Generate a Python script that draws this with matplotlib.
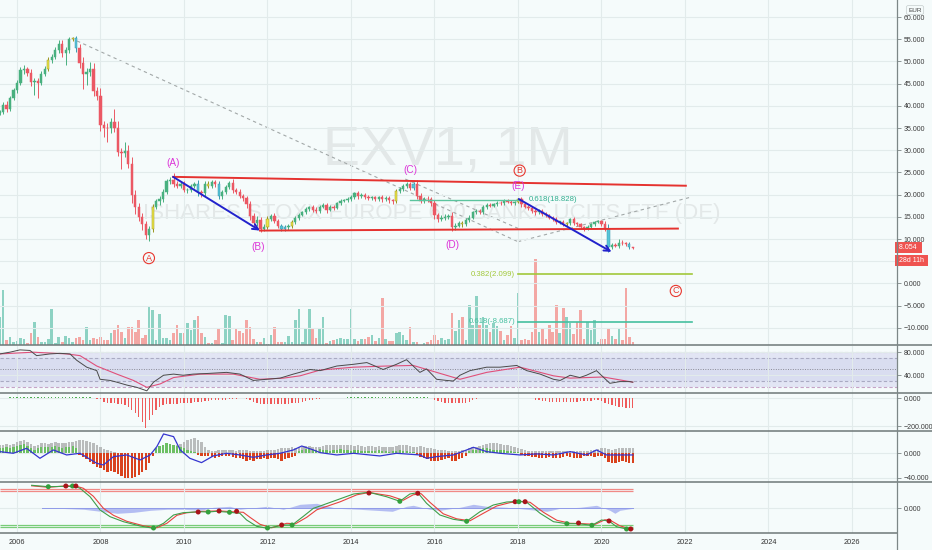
import numpy as np
import pandas as pd
import matplotlib
matplotlib.use("Agg")
import matplotlib.pyplot as plt
from matplotlib.lines import Line2D

plt.rcParams['font.family'] = ['Liberation Sans', 'DejaVu Sans']

# ---- monthly candles, Aug 2005 .. Oct 2020 (EUR) ----
first_open = 38.4
closes = (
    [38.6, 40.2, 39.3, 41.8, 43.5] +
    [45.2, 48.0, 48.2, 47.5, 45.4, 45.5, 45.2, 47.2, 48.4, 50.3, 51.0, 52.5] +
    [54.0, 51.8, 52.5, 55.0, 55.3, 53.0, 49.6, 47.2, 47.6, 48.4, 43.3, 42.2] +
    [35.6, 35.0, 34.9, 36.3, 35.0, 29.6, 29.3, 29.9, 27.0, 20.0, 17.2, 15.0] +
    [13.3, 11.0, 12.3, 17.3, 18.5, 19.0, 20.6, 23.0, 23.3, 22.4, 22.0, 22.5] +
    [21.0, 21.0, 22.0, 22.3, 20.5, 20.3, 22.5, 22.0, 22.8, 22.3, 19.6, 20.5] +
    [21.7, 22.7, 21.0, 20.6, 19.7, 19.2, 17.8, 15.2, 13.6, 14.2, 12.3, 12.8] +
    [14.5, 15.2, 14.1, 13.0, 12.3, 12.6, 12.9, 13.8, 14.7, 15.4, 16.0, 16.8] +
    [17.1, 16.6, 16.4, 17.3, 17.6, 16.6, 17.2, 17.0, 18.0, 18.6, 18.8, 19.0] +
    [19.4, 20.3, 19.6, 19.9, 19.5, 19.2, 19.4, 19.0, 19.5, 18.9, 19.2, 18.7] +
    [18.5, 20.8, 21.3, 21.9, 22.3, 21.6, 22.4, 19.8, 18.6, 19.0, 18.9, 18.0] +
    [15.3, 14.6, 14.8, 15.0, 15.2, 12.6, 13.0, 13.6, 13.3, 14.3, 14.8, 16.0] +
    [16.3, 16.0, 17.2, 17.6, 17.5, 17.8, 18.2, 18.0, 18.6, 18.4, 18.0, 18.3] +
    [18.9, 17.8, 17.3, 17.0, 16.3, 16.0, 16.3, 15.6, 15.3, 14.8, 14.5, 13.8] +
    [13.8, 13.3, 13.5, 14.4, 13.5, 13.3, 12.7, 12.3, 12.8, 13.3, 13.8, 14.0] +
    [13.3, 12.2, 8.3, 8.6, 8.5, 9.2, 9.0, 8.9, 8.1, 8.054]
)
wick_hi = (
    [0.5, 0.6, 0.8, 0.5, 0.6] +
    [0.6, 0.8, 0.9, 0.6, 0.8, 0.7, 0.8, 0.6, 0.6, 0.8, 0.6, 0.7] +
    [0.8, 0.9, 0.7, 0.6, 0.3, 0.5, 1.0, 1.5, 1.0, 1.5, 1.2, 1.0] +
    [1.8, 1.0, 1.2, 1.0, 3.0, 1.5, 1.0, 2.0, 1.2, 1.5, 1.0, 1.0] +
    [0.8, 0.8, 0.6, 0.5, 0.6, 0.6, 0.6, 0.5, 0.7, 1.5, 0.6, 0.6] +
    [0.6, 0.4, 0.5, 0.6, 1.0, 0.6, 0.5, 0.6, 0.6, 0.6, 0.8, 0.5] +
    [0.5, 0.4, 0.8, 0.6, 0.6, 0.5, 0.6, 0.8, 0.6, 0.9, 0.8, 0.5] +
    [0.6, 0.5, 0.6, 0.5, 0.4, 0.5, 0.5, 0.4, 0.5, 0.4, 0.4, 0.4] +
    [0.4, 0.6, 0.5, 0.4, 0.5, 0.6, 0.4, 0.5, 0.4, 0.4, 0.3, 0.4] +
    [0.5, 0.4, 0.5, 0.4, 0.4, 0.4, 0.4, 0.4, 0.3, 0.5, 0.4, 0.5] +
    [0.4, 0.4, 0.5, 0.4, 0.5, 0.6, 0.5, 1.0, 0.6, 0.5, 0.6, 0.5] +
    [0.7, 0.6, 0.7, 0.6, 0.5, 0.8, 0.5, 0.4, 0.5, 0.4, 0.5, 0.4] +
    [0.4, 0.5, 0.4, 0.5, 0.4, 0.4, 0.3, 0.4, 0.3, 0.4, 0.4, 0.3] +
    [0.3, 0.6, 0.4, 0.4, 0.5, 0.4, 0.4, 0.4, 0.4, 0.4, 0.4, 0.4] +
    [0.3, 0.4, 0.3, 0.3, 0.5, 0.3, 0.3, 0.3, 0.4, 0.3, 0.3, 0.3] +
    [0.3, 0.8, 1.2, 0.6, 0.4, 0.8, 0.5, 0.4, 0.4, 0.2]
)
wick_lo = (
    [0.4, 0.5, 0.6, 0.5, 0.5] +
    [0.6, 0.5, 0.8, 0.7, 0.9, 3.0, 3.5, 0.6, 0.5, 0.6, 0.6, 0.5] +
    [0.5, 0.8, 2.5, 0.6, 0.4, 0.8, 1.0, 3.5, 2.5, 0.8, 1.0, 1.0] +
    [1.2, 2.0, 3.0, 1.0, 1.0, 1.0, 3.5, 0.8, 1.0, 2.0, 1.5, 1.0] +
    [1.2, 1.0, 1.5, 0.8, 0.5, 0.8, 0.6, 0.5, 0.5, 0.6, 0.6, 0.5] +
    [0.5, 0.6, 0.4, 0.5, 0.7, 0.8, 0.5, 0.6, 0.5, 0.6, 0.5, 0.5] +
    [0.4, 0.5, 0.6, 0.5, 0.5, 0.7, 0.8, 1.0, 0.9, 0.7, 0.8, 0.5] +
    [0.5, 0.4, 0.5, 0.5, 0.6, 0.5, 0.5, 0.4, 0.5, 0.4, 0.3, 0.4] +
    [0.4, 0.6, 0.5, 0.5, 0.4, 0.7, 0.4, 0.4, 0.3, 0.3, 0.3, 0.4] +
    [0.4, 0.4, 0.5, 0.4, 0.4, 0.4, 0.4, 0.5, 0.4, 0.6, 0.4, 0.5] +
    [0.6, 0.4, 0.4, 0.4, 0.4, 0.5, 0.6, 0.8, 0.6, 0.5, 0.5, 0.6] +
    [0.8, 0.7, 0.6, 0.5, 0.5, 0.8, 0.5, 0.4, 0.5, 0.4, 0.4, 0.4] +
    [0.4, 0.4, 0.3, 0.4, 0.4, 0.4, 0.3, 0.4, 0.3, 0.4, 0.4, 0.3] +
    [0.3, 0.5, 0.4, 0.4, 0.4, 0.5, 0.4, 0.4, 0.4, 0.4, 0.4, 0.4] +
    [0.4, 0.3, 0.4, 0.3, 0.3, 0.3, 0.3, 0.4, 0.3, 0.3, 0.3, 0.3] +
    [0.3, 0.4, 1.2, 0.5, 0.4, 0.5, 0.4, 0.4, 0.3, 0.2]
)
volumes = (
    [28, 55, 5, 8, 3] +
    [4, 7, 6, 2, 12, 23, 8, 3, 3, 6, 36, 2] +
    [8, 3, 9, 7, 3, 7, 8, 5, 18, 5, 7, 6] +
    [8, 5, 5, 12, 15, 20, 13, 7, 18, 18, 13, 25] +
    [7, 10, 39, 35, 5, 31, 7, 7, 5, 12, 20, 12] +
    [12, 22, 15, 25, 29, 12, 8, 2, 2, 5, 16, 2] +
    [30, 29, 5, 16, 14, 12, 25, 18, 6, 3, 3, 7] +
    [1, 10, 18, 3, 3, 3, 9, 3, 25, 36, 3, 16] +
    [36, 17, 7, 17, 28, 2, 4, 5, 6, 7, 6, 6] +
    [36, 6, 4, 6, 6, 8, 10, 4, 7, 47, 6, 4] +
    [4, 12, 13, 10, 5, 18, 3, 3, 0, 2, 3, 5] +
    [10, 5, 7, 5, 6, 32, 14, 25, 28, 5, 40, 20] +
    [49, 20, 28, 20, 13, 22, 19, 14, 5, 10, 19, 7] +
    [52, 5, 6, 5, 13, 86, 13, 17, 6, 20, 13, 40] +
    [12, 37, 28, 22, 11, 23, 35, 6, 23, 15, 25, 3] +
    [6, 6, 17, 9, 6, 17, 5, 57, 8, 3]
)
yellow_bars = ['2006-10', '2007-05', '2009-04', '2010-08', '2012-01', '2012-08',
               '2015-02', '2016-09', '2018-01', '2019-03']
cyan_bars = ['2007-06', '2010-05', '2010-11', '2012-05', '2012-06', '2015-07',
             '2020-03', '2020-09']

# ---- drawings on the price pane ----
chan_upper = [(2009.74, 24.0), (2022.02, 22.0)]
chan_lower = [(2011.82, 11.9), (2021.83, 12.35)]
arrows = [[(2009.74, 24.0), (2011.82, 11.9)], [(2018.02, 19.0), (2020.24, 7.1)]]
dash_lines = [[(2007.44, 54.6), (2018.0, 9.4)],
              [(2015.3, 23.5), (2018.0, 12.4)],
              [(2018.0, 9.4), (2022.17, 19.5)]]
fib_top = (0.618, 18.828, 2015.41, 2018.05)
fib_low = [(0.382, 2.099, '#a2c83a'), (0.618, -8.687, '#45bf9f')]
fib_low_span = (2018.0, 2022.17)
waves = [('(A)', 2009.74, 27.1), ('(B)', 2011.77, 8.2), ('(C)', 2015.43, 25.5),
         ('(D)', 2016.43, 8.65), ('(E)', 2018.0, 22.0)]
circled = [('A', 2009.16, 5.7), ('B', 2018.04, 25.4), ('C', 2021.78, -1.7)]

# ---- RSI pane ----
rsi_t = [2005.59, 2005.83, 2006.07, 2006.31, 2006.47, 2006.79, 2007.03, 2007.27, 2007.43, 2007.67,
         2007.91, 2007.99, 2008.23, 2008.39, 2008.63, 2008.87, 2009.11, 2009.27, 2009.51, 2009.75,
         2009.98, 2010.22, 2010.54, 2011.02, 2011.34, 2011.66, 2011.98, 2012.30, 2012.62, 2013.02,
         2013.26, 2013.66, 2014.06, 2014.38, 2014.77, 2015.09, 2015.33, 2015.65, 2015.81, 2016.05,
         2016.29, 2016.45, 2016.61, 2016.85, 2017.25, 2017.57, 2017.97, 2018.21, 2018.53, 2018.85,
         2019.01, 2019.25, 2019.48, 2019.64, 2019.88, 2020.20, 2020.44, 2020.68, 2020.75]
rsi_v = [77, 80, 84, 83, 74, 77, 78, 77, 66, 54, 48, 33, 31, 28, 23, 19, 13, 28, 40, 42,
         40, 42, 43, 45, 42, 31, 33, 35, 42, 50, 48, 56, 59, 62, 50, 59, 67, 45, 51, 33,
         31, 30, 40, 48, 54, 54, 57, 48, 42, 33, 31, 40, 36, 40, 48, 26, 29, 29, 28]
rsi_ma_t = [2005.59, 2006.39, 2007.19, 2007.51, 2007.91, 2008.39, 2008.79, 2009.11, 2009.43,
            2009.75, 2010.38, 2011.18, 2011.82, 2012.38, 2012.78, 2013.26, 2014.06, 2014.85,
            2015.49, 2016.05, 2016.61, 2017.25, 2018.05, 2018.85, 2019.25, 2020.04, 2020.75]
rsi_ma_v = [77, 80, 77, 74, 56, 42, 31, 19, 25, 36, 42, 42, 33, 35, 39, 49, 54, 56, 57, 45,
            33, 45, 54, 39, 35, 37, 28]

# ---- momentum histogram pane ----
mom = (
    [0, 0, 0, 8, 10] +
    [10, 12, 12, 12, 12, 12, 12, 12, 12, 12, 12, 12] +
    [12, 12, 12, 12, 12, 12, 10, 8, 8, 6, 4, -3] +
    [-5, -24, -30, -32, -36, -40, -44, -48, -60, -84, -108, -137] +
    [-168, -216, -156, -120, -84, -60, -48, -41, -41, -41, -40, -36] +
    [-34, -32, -30, -28, -26, -24, -22, -18, -14, -12, -12, -10] +
    [-10, -8, -5, -3, 0, 0, -5, -12, -24, -36, -44, -44] +
    [-44, -44, -44, -44, -42, -40, -38, -36, -34, -30, -26, -20] +
    [-15, -10, -6, -3, 2, 2, 3, 3, 3, 3, 3, 10] +
    [10, 12, 12, 12, 12, 12, 12, 12, 12, 12, 12, 12] +
    [12, 12, 12, 12, 12, 12, 12, 12, 10, 8, 6, 4] +
    [-10, -20, -28, -34, -36, -36, -36, -36, -34, -30, -24, -15] +
    [-3, 2, 2, 2, 2, 2, 2, 2, 2, 2, 2, 2] +
    [2, 2, 2, 2, 2, -10, -14, -18, -22, -25, -26, -27] +
    [-28, -28, -27, -26, -25, -24, -22, -20, -18, -16, -14, -12] +
    [-20, -30, -40, -48, -55, -60, -64, -68, -70, -72]
)

# ---- MACD-style pane ----
osc_gray = (
    [13, 14, 15, 14, 15] +
    [18, 20, 21, 18, 15, 12, 14, 16, 17, 15, 16, 18] +
    [16, 16, 17, 18, 19, 20, 21, 21, 20, 19, 17, 14] +
    [10, 7, 5, 3, 2, 0, 0, 0, 0, 0, 0, 0] +
    [0, 0, 0, 0, 3, 6, 8, 10, 12, 13, 14, 15] +
    [18, 21, 23, 24, 22, 18, 10, 5, 4, 4, 5, 5] +
    [5, 6, 5, 4, 5, 6, 5, 4, 4, 3, 3, 4] +
    [5, 6, 6, 7, 8, 8, 9, 10, 9, 10, 11, 12] +
    [12, 11, 10, 11, 12, 13, 13, 14, 14, 13, 14, 14] +
    [13, 12, 13, 12, 11, 12, 12, 11, 12, 11, 10, 11] +
    [11, 12, 13, 14, 13, 12, 11, 11, 12, 10, 9, 8] +
    [7, 6, 5, 5, 4, 4, 4, 4, 5, 6, 8, 10] +
    [11, 12, 14, 15, 16, 17, 16, 15, 14, 13, 12, 10] +
    [9, 7, 5, 4, 4, 3, 3, 3, 3, 3, 3, 3] +
    [3, 4, 4, 3, 3, 4, 4, 3, 4, 5, 6, 7] +
    [8, 8, 7, 6, 7, 8, 8, 9, 9, 9]
)
osc_hist = (
    [8, 9, 10, 9, 10] +
    [12, 14, 15, 12, 8, 6, 8, 10, 11, 10, 11, 12] +
    [10, 9, 10, 11, 12, 8, -3, -6, -10, -14, -18, -22] +
    [-24, -27, -30, -28, -30, -33, -36, -40, -40, -40, -38, -35] +
    [-30, -27, -16, -5, 8, 12, 14, 16, 15, 14, 12, 10] +
    [8, 6, 4, 2, -3, -5, -5, -4, -6, -7, -6, -5] +
    [-5, -4, -6, -7, -8, -10, -12, -11, -12, -10, -9, -8] +
    [-10, -8, -7, -9, -12, -10, -8, -6, -5, 3, 5, 7] +
    [8, 6, 5, 7, 6, 5, 4, 5, 6, 7, 6, 5] +
    [4, 5, 6, 4, 3, 4, 3, 4, 5, 4, 3, 2] +
    [3, 4, 5, 4, 3, 2, 2, -3, -6, -8, -10, -12] +
    [-13, -12, -11, -10, -8, -12, -13, -9, -7, -5, 3, 5] +
    [6, 7, 8, 8, 7, 6, 6, 5, 5, 4, 3, 2] +
    [2, -3, -4, -5, -6, -6, -7, -8, -7, -6, -7, -8] +
    [-7, -6, -5, -6, -7, -8, -7, -5, -4, -5, -6, -4] +
    [-5, -8, -14, -16, -15, -14, -13, -14, -15, -16]
)
osc_line_t = [2005.59, 2005.91, 2006.23, 2006.55, 2006.87, 2007.19, 2007.51, 2007.91, 2008.07, 2008.31,
              2008.63, 2008.95, 2009.19, 2009.35, 2009.51, 2009.75, 2009.91, 2010.14, 2010.42, 2010.70,
              2011.02, 2011.34, 2011.66, 2011.98, 2012.30, 2012.62, 2012.82, 2013.10, 2013.26, 2013.66,
              2014.06, 2014.45, 2014.69, 2015.09, 2015.65, 2015.81, 2016.05, 2016.45, 2016.77, 2016.93,
              2017.25, 2017.57, 2018.05, 2018.45, 2018.85, 2019.25, 2019.64, 2019.88, 2020.12, 2020.44,
              2020.75]
osc_line_v = [2.7, 0, 8.1, -8.1, 5.4, -2.7, 0, -16.2, -18.9, -5.4,
              -2.7, -10.8, -2.7, 10.8, 31.3, 27, 5.4, -8.1, -15.1, -4.3,
              0, -2.7, -6.5, -2.7, 0, 5.4, 11.8, 5.4, 1.1, -2.7,
              0, -2.7, -4.3, 0, -2.7, -8.1, -5.4, -2.7, 5.4, 9.7,
              2.7, 0, -2.7, -1, -2.7, 2.7, -2.7, 5.4, -2.7, -2.7,
              -2.7]

# ---- stochastic-style pane ----
fast_t = [2006.35, 2006.75, 2007.19, 2007.41, 2007.51, 2007.75, 2007.99, 2008.23, 2008.55, 2008.95,
          2009.27, 2009.51, 2009.75, 2009.98, 2010.38, 2010.58, 2010.78, 2011.09, 2011.34, 2011.50,
          2011.74, 2012.00, 2012.38, 2012.59, 2012.86, 2013.10, 2013.26, 2013.66, 2014.06, 2014.43,
          2014.85, 2015.17, 2015.41, 2015.60, 2015.81, 2016.13, 2016.45, 2016.77, 2017.09, 2017.41,
          2017.73, 2018.02, 2018.21, 2018.53, 2018.85, 2019.17, 2019.45, 2019.77, 2020.00, 2020.18,
          2020.36, 2020.60, 2020.75]
fast_v = [23, 21.6, 22, 21.6, 20, 11.6, -1.7, -8.4, -13.4, -17.7,
          -20, -15, -6.7, -4.4, -3.4, -3.7, -3, -4, -5, -11.7,
          -18, -20, -16.7, -16.7, -8, 0, 2.3, 8.3, 14.3, 16,
          11.6, 7, 14.3, 15.6, 5, -6.7, -11, -13, -3.4, 3.3,
          6.3, 7, 6, -5, -13.4, -15.4, -15.4, -17, -11.7, -12.7,
          -18.4, -20.7, -20.7]
slow_t = [2006.35, 2006.75, 2007.19, 2007.43, 2007.59, 2007.83, 2008.07, 2008.31, 2008.63, 2009.03,
          2009.35, 2009.59, 2009.83, 2010.06, 2010.46, 2010.86, 2011.17, 2011.42, 2011.58, 2011.82,
          2012.10, 2012.46, 2012.67, 2012.94, 2013.18, 2013.74, 2014.14, 2014.43, 2014.93, 2015.25,
          2015.49, 2015.68, 2015.89, 2016.21, 2016.53, 2016.85, 2017.17, 2017.49, 2017.81, 2018.05,
          2018.29, 2018.61, 2018.93, 2019.25, 2019.45, 2019.85, 2020.08, 2020.20, 2020.44, 2020.68,
          2020.75]
slow_v = [22.5, 21, 22.5, 22, 20, 12, 0, -7, -13, -17.5,
          -19.5, -15, -7, -4.5, -3, -2.6, -3.5, -4, -9, -16,
          -19.5, -15, -15.5, -9, -1.5, 6.5, 13.5, 15.8, 12.5, 8,
          13.5, 14.6, 6, -5.5, -10.5, -12.5, -5, 2.3, 5.7, 7,
          6, -4, -12, -15, -15.2, -16, -11.5, -11.7, -17.5, -20.5,
          -20.7]
cross_t = [2006.75, 2007.17, 2007.33, 2007.41, 2009.27, 2010.34, 2010.58, 2010.84, 2011.09, 2011.26,
           2012.00, 2012.34, 2012.59, 2014.43, 2015.17, 2015.60, 2016.77, 2017.93, 2018.02, 2018.17,
           2019.17, 2019.45, 2019.77, 2020.18, 2020.60, 2020.70]
cross_v = [21.6, 22.3, 22.3, 22.3, -19.7, -3.7, -3.7, -2.7, -4, -3,
           -19.7, -16.7, -16.7, 15.3, 7, 15, -13, 6.6, 6.6, 6.6,
           -15.4, -14.7, -17, -12.7, -20.7, -20.7]
cross_up = [True, False] * 13
spread_t = [2006.59, 2007.00, 2007.60, 2008.00, 2008.40, 2008.80, 2009.20, 2009.60, 2010.00, 2010.40,
            2010.70, 2011.10, 2011.34, 2011.98, 2012.38, 2012.78, 2013.18, 2013.26, 2013.66, 2014.20,
            2014.99, 2015.33, 2015.49, 2015.89, 2016.13, 2016.61, 2016.93, 2017.25, 2017.73, 2018.21,
            2018.69, 2019.01, 2019.48, 2019.88, 2020.20, 2020.32, 2020.44, 2020.76]
spread_v = [0, 0, -1, -3, -5, -4, -2, -1, -1, -2, 1, 2, -1, 2, -1, 4, 5, 4, 0, -1,
            -3, 2, 3, -1, -2, 1, 4, 2, 1, -1, -3, 0, 1, 3, -2, -5, -2, 0]
ob_lines = [19.3, 17.3]
os_lines = [-16.7, -19.0]

# ---------------------------------------------------------------------
W, H = 932, 550
BG = '#f5fbfb'
GRID = '#e2ebeb'
GREEN, RED = '#48b07f', '#eb5864'
VOL_UP, VOL_DN = '#8dd2c3', '#f3a7a4'
MAGENTA = '#dc34d8'
CIRC_RED = '#e8372f'
X0, X1 = 2005.593, 2027.078
years = np.arange(2006, 2027, 2)

fig = plt.figure(figsize=(W / 100, H / 100), dpi=100)
fig.patch.set_facecolor(BG)


def right_scale(a):
    a.yaxis.tick_right()
    a.tick_params(axis='y', left=False, labelleft=False, right=True, labelright=True,
                  direction='out', length=3, width=0.6, color='#7d8787',
                  pad=1.6, labelsize=5.0, labelcolor='#3a3a3a')


def pane(top, bottom):
    a = fig.add_axes([0, 1 - bottom / H, 897 / W, (bottom - top) / H])
    a.set_facecolor('none')
    a.set_xlim(X0, X1)
    for s in a.spines.values():
        s.set_visible(False)
    a.set_xticks(years)
    a.grid(axis='x', color=GRID, lw=0.8, zorder=0)
    a.tick_params(axis='x', length=0, labelbottom=False)
    right_scale(a)
    return a


def fmt(v):
    return f"{v:.3f}".replace('-', '\u2212')


def set_ticks(a, vals, hidden=()):
    a.set_yticks(vals)
    a.set_yticklabels(['' if v in hidden else fmt(v) for v in vals])
    a.grid(axis='y', color=GRID, lw=0.8, zorder=0)


months = pd.date_range('2005-08-01', periods=len(closes), freq='MS')
t = np.asarray(months.year + (months.month - 1) / 12.0, dtype=float)
c = np.asarray(closes)
o = np.r_[first_open, c[:-1]]
up = c >= o
body_lo, body_hi = np.minimum(o, c), np.maximum(o, c)
hi = body_hi + np.asarray(wick_hi)
lo = body_lo - np.asarray(wick_lo)
tags = list(months.strftime('%Y-%m'))
face = [GREEN if u else RED for u in up]
edge = list(face)
for i, tg in enumerate(tags):
    if tg in yellow_bars:
        face[i], edge[i] = '#ece64a', '#9b9520'
    elif tg in cyan_bars:
        face[i], edge[i] = '#56c3d8', '#3a9bb0'

# ---- price pane ----
ax = pane(0, 345)
axv = ax.twinx()
axv.set_xlim(X0, X1)
axv.set_ylim(0, 345)
axv.set_axis_off()
axv.bar(t, volumes, width=0.062, color=[VOL_UP if u else VOL_DN for u in up], zorder=1)
ax.set_zorder(axv.get_zorder() + 1)
# twinx moves the host ticks to the left, put them back on the price scale
right_scale(ax)
ax.set_ylim(-13.87, 63.83)
# the 5.000 level sits under the last-price tags
set_ticks(ax, list(range(-10, 61, 5)), hidden=(5,))

ax.text(0.4994, 0.5623, 'EXV1, 1M', transform=ax.transAxes, ha='center', va='center',
        fontsize=40, color='#e3e8e8', zorder=0.5)
ax.text(0.4816, 0.3826, 'ISHARES STOXX EUROPE 600 BANKS UCITS ETF (DE)', transform=ax.transAxes,
        ha='center', va='center', fontsize=16, color='#e3e8e8', zorder=0.5)

for ln in dash_lines:
    (xa, ya), (xb, yb) = ln
    ax.plot([xa, xb], [ya, yb], color='#a2a8a8', lw=0.8, ls=(0, (3, 3)), zorder=1)

ax.vlines(t, lo, hi, colors=edge, lw=0.7, zorder=3)
ax.bar(t, np.maximum(body_hi - body_lo, 0.15), bottom=body_lo, width=0.055,
       color=face, edgecolor=edge, lw=0.35, zorder=3)

for ln in (chan_upper, chan_lower):
    ax.plot([ln[0][0], ln[1][0]], [ln[0][1], ln[1][1]], color='#e5322f', lw=1.4, zorder=4)
for (xa, ya), (xb, yb) in arrows:
    ax.annotate('', xy=(xb, yb), xytext=(xa, ya),
                arrowprops=dict(arrowstyle='->', color='#2222cc', lw=1.4,
                                mutation_scale=10, shrinkA=0, shrinkB=0), zorder=5)

ratio, lvl, xa, xb = fib_top
ax.plot([xa, xb], [lvl, lvl], color='#5cc49e', lw=1.0, zorder=4)
ax.annotate(f"{ratio}({lvl:.3f})", xy=(xb, lvl), xytext=(6, 0), textcoords='offset points',
            ha='left', va='center', fontsize=5.6, color='#2fae8e', zorder=6)
for ratio, lvl, col in fib_low:
    ax.plot(fib_low_span, [lvl, lvl], color=col, lw=1.2, zorder=4)
    ax.annotate(f"{ratio}({lvl:.3f})", xy=(fib_low_span[0], lvl), xytext=(-2, 0),
                textcoords='offset points', ha='right', va='center', fontsize=5.6,
                color=col, zorder=6)

for txt, x, y in waves:
    ax.text(x, y, txt, ha='center', va='center', fontsize=7.2, color=MAGENTA, zorder=6)
for txt, x, y in circled:
    ax.text(x, y, txt, ha='center', va='center', fontsize=6.5, color=CIRC_RED, zorder=6,
            bbox=dict(boxstyle='circle,pad=0.12', fc='none', ec=CIRC_RED, lw=0.8))

ax.text(1.0, closes[-1], f" {closes[-1]:.3f}  ", transform=ax.get_yaxis_transform(),
        ha='left', va='center', fontsize=5.0, color='white', clip_on=False, zorder=10,
        bbox=dict(boxstyle='square,pad=0.25', fc='#ef5350', ec='none'))
ax.annotate(' 28d 11h ', xy=(1.0, closes[-1]), xycoords=ax.get_yaxis_transform(),
            xytext=(0, -9.2), textcoords='offset points', ha='left', va='center',
            fontsize=5.0, color='white', annotation_clip=False, zorder=10,
            bbox=dict(boxstyle='square,pad=0.25', fc='#ef5350', ec='none'))
fig.text(915 / W, 1 - 10 / H, 'EUR', ha='center', va='center', fontsize=4.6, color='#444',
         bbox=dict(boxstyle='round,pad=0.3', fc=BG, ec='#c5cdcd', lw=0.5))

# ---- RSI pane ----
ax2 = pane(345.5, 393.3)
ax2.set_ylim(8.7, 91.6)
set_ticks(ax2, [40, 80])
ax2.axhspan(20, 80, color='#e2e5f4', zorder=0.2, lw=0)
ax2.axhspan(30, 70, color='#d9ddf0', zorder=0.2, lw=0)
for lv, col in ((80, '#c6a3c6'), (20, '#c6a3c6'), (70, '#a9aac2'), (30, '#a9aac2')):
    ax2.axhline(lv, color=col, lw=0.8, ls=(0, (3, 2)), zorder=0.4)
ax2.axhline(50, color='#8a8a96', lw=0.7, ls=(0, (1, 1.5)), zorder=0.4)
ax2.plot(rsi_ma_t, rsi_ma_v, color='#e0507a', lw=0.8, zorder=2)
ax2.plot(rsi_t, rsi_v, color='#4a4a4a', lw=0.7, zorder=3)

# ---- momentum pane ----
ax3 = pane(393.3, 431)
ax3.set_ylim(-234, 36)
set_ticks(ax3, [-200, 0])
m = np.asarray(mom)
ax3.bar(t, m, width=0.032, color=np.where(m >= 0, '#4caf50', '#ef5a5a'), zorder=2)

# ---- oscillator pane ----
ax4 = pane(431, 481.7)
ax4.set_ylim(-46, 36.1)
set_ticks(ax4, [-40, 0])
ax4.bar(t, osc_gray, width=0.062, color='#b9bcbc', zorder=2)
h = np.asarray(osc_hist)
ax4.bar(t, h, width=0.055, color=np.where(h >= 0, '#6cbf63', '#d9421d'), zorder=3)
ax4.plot(osc_line_t, osc_line_v, color='#3535d0', lw=0.9, zorder=4)

# ---- stochastic pane ----
ax5 = pane(481.7, 532.7)
ax5.set_ylim(-24.4, 26.6)
set_ticks(ax5, [0])
ax5.hlines(ob_lines, t[0], t[-1], color='#f08a86', lw=0.9, zorder=1)
ax5.hlines(os_lines, t[0], t[-1], color='#78cc78', lw=0.9, zorder=1)
ax5.fill_between(spread_t, spread_v, 0, color='#98a3ef', alpha=0.7, lw=0, zorder=1.5)
ax5.plot(spread_t, np.zeros(len(spread_t)), color='#8f9ae8', lw=0.7, zorder=1.6)
ax5.plot(slow_t, slow_v, color='#e8443f', lw=0.8, zorder=2)
ax5.plot(fast_t, fast_v, color='#3f9e4a', lw=0.8, zorder=3)
ax5.scatter(cross_t, cross_v, s=13, c=['#33a03c' if u else '#a8141a' for u in cross_up],
            edgecolors='none', zorder=4)
ax5.set_xticklabels([str(y) for y in years])
ax5.tick_params(axis='x', labelbottom=True, labelsize=5.3, pad=4.5, labelcolor='#333333')

# pane separators and the price scale edge
for y, x_end in ((345, W), (393.3, W), (431, W), (481.7, W), (532.7, 897)):
    fig.add_artist(Line2D([0, x_end / W], [1 - y / H, 1 - y / H], transform=fig.transFigure,
                          color='#6e7878', lw=1.1))
fig.add_artist(Line2D([897 / W, 897 / W], [0, 1], transform=fig.transFigure,
                      color='#7d8787', lw=0.9))

fig.savefig('out.png', dpi=100, facecolor=BG)
